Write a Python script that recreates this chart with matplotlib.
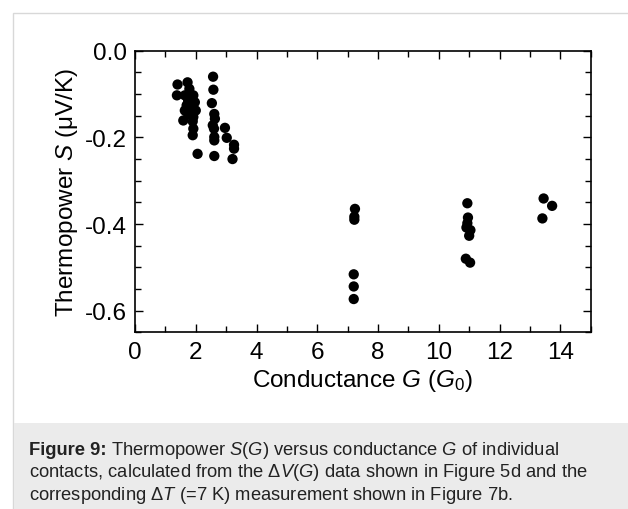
import matplotlib
matplotlib.use("Agg")
import matplotlib.pyplot as plt
from matplotlib.patches import Rectangle

font = {'family': 'Liberation Sans',
        'size': 17.5}
plt.rc('font', **font)
plt.rcParams['mathtext.fontset'] = 'custom'
plt.rcParams['mathtext.rm'] = 'Liberation Sans'
plt.rcParams['mathtext.it'] = 'Liberation Sans:italic'
plt.rcParams['mathtext.bf'] = 'Liberation Sans:bold'

# conductance G (G0) and thermopower S (uV/K)
G = [1.40, 1.38, 1.73, 1.79, 1.92, 1.64, 1.75, 1.97, 1.70, 1.86,
     2.00, 1.64, 1.75, 1.92, 1.59, 1.90, 1.92, 1.90, 2.06,
     2.57, 2.58, 2.53, 2.61, 2.63, 2.56, 2.60, 2.61, 2.61, 2.61,
     2.96, 3.02, 3.26, 3.26, 3.21,
     7.24, 7.22, 7.22, 7.20, 7.20, 7.20,
     10.94, 10.96, 10.94, 10.91, 11.04, 11.00, 10.89, 11.03,
     13.45, 13.73, 13.41]
S = [-0.078, -0.103, -0.073, -0.088, -0.103, -0.103, -0.115, -0.119, -0.126, -0.134,
     -0.138, -0.138, -0.146, -0.153, -0.161, -0.163, -0.180, -0.195, -0.238,
     -0.060, -0.090, -0.121, -0.146, -0.157, -0.172, -0.180, -0.199, -0.207, -0.243,
     -0.178, -0.201, -0.217, -0.226, -0.250,
     -0.365, -0.383, -0.390, -0.516, -0.544, -0.573,
     -0.352, -0.385, -0.398, -0.408, -0.414, -0.427, -0.480, -0.489,
     -0.341, -0.358, -0.387]

x_ticks = [0, 2, 4, 6, 8, 10, 12, 14]
y_ticks = [0.0, -0.2, -0.4, -0.6]
y_ticklabels = ["0.0", "-0.2", "-0.4", "-0.6"]

caption_head = "Figure 9:"
caption = [
    r" Thermopower $\mathit{S}$($\mathit{G}$) versus conductance $\mathit{G}$ of individual",
    r"contacts, calculated from the Δ$\mathit{V}$($\mathit{G}$) data shown in Figure 5d and the",
    r"corresponding Δ$\mathit{T}$ (=7 K) measurement shown in Figure 7b.",
]

fig = plt.figure(figsize=(6.28, 5.10), dpi=100)

# card border and grey caption box
fig.patches.append(Rectangle((13/628, 0), 1.0, 1 - 14/510, transform=fig.transFigure,
                             facecolor='white', edgecolor='#d8d8d8', linewidth=1.0, zorder=0))
fig.patches.append(Rectangle((13.5/628, 0), 1.0, 1 - 424/510, transform=fig.transFigure,
                             facecolor='#ebebeb', edgecolor='none', zorder=1))

ax = fig.add_axes([135/628, 1 - 333.4/510, (590.7 - 135)/628, (333.4 - 51.7)/510])
ax.set_zorder(5)
ax.patch.set_alpha(0)
ax.scatter(G, S, s=55, color='black', edgecolors='none', zorder=3)

ax.set_xlim(0, 15)
ax.set_ylim(-0.65, 0.0)
ax.set_xticks(x_ticks)
ax.set_xticks(range(0, 16), minor=True)
ax.set_yticks(y_ticks)
ax.set_yticklabels(y_ticklabels)
ax.set_yticks([-0.05 * i for i in range(14)], minor=True)
ax.tick_params(which='both', direction='in', top=True, right=True, width=1.0, pad=6)
ax.tick_params(which='major', length=6)
ax.tick_params(which='minor', length=4)
for sp in ax.spines.values():
    sp.set_linewidth(1.2)

ax.set_xlabel(r"Conductance $\mathit{G}$ ($\mathit{G}_{0}$)", labelpad=3)
ax.set_ylabel(r"Thermopower $\mathit{S}$ (μV/K)", labelpad=3)

# caption, bold head then the rest of the first line right after it
cap_size = 13.2
y0 = 455
head = fig.text(29/628, 1 - y0/510, caption_head, fontsize=cap_size, fontweight='bold',
                color='#222222', va='baseline', ha='left', zorder=6)
fig.canvas.draw()
bb = head.get_window_extent()
for i, line in enumerate(caption):
    x0 = bb.x1 / 628 if i == 0 else 29/628
    fig.text(x0, 1 - y0/510, line, fontsize=cap_size, color='#222222',
             va='baseline', ha='left', zorder=6)
    y0 += 22.5

fig.savefig("out.png", dpi=100)
